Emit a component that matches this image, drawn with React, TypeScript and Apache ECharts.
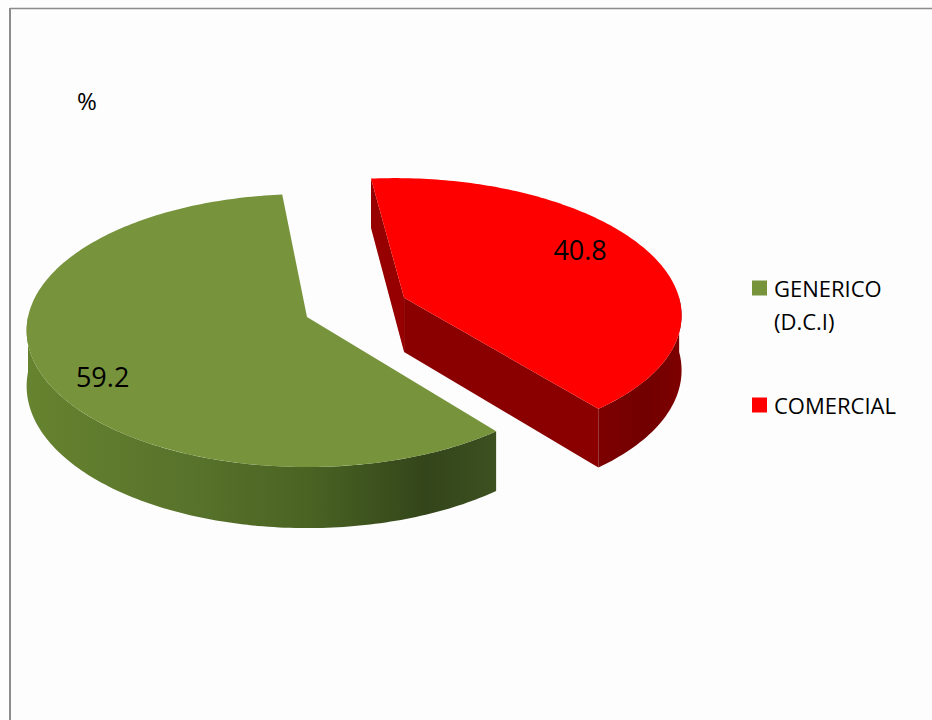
import React, { useEffect, useRef } from 'react';
import * as echarts from 'echarts';

// ---- data ----
const categories = ['GENERICO\n(D.C.I)', 'COMERCIAL'];
const values = [59.2, 40.8];
const valueLabels = ['59.2', '40.8'];
const unitLabel = '%';

// ---- styles / layout ----
const topColors = ['#77933c', '#ff0000'];
const legendColors = ['#77933c', '#ff0000'];
const explode = [0, 0.381];
const START_ANGLE = 95.6;
const CX = 307;
const CY = 317;
const RX = 279;
const RY = 135.2;
const K = 0.099; // perspective shrink toward the back
const DEPTH = 55;
const labelR = [0.75, 0.69];
const labelNudge = [[-5, 20], [7, -15]];
const legendY = [288, 405];
const FONT = '"Open Sans", "Noto Sans", sans-serif';

const RAD = Math.PI / 180;

function sideGradient(i: number) {
  if (i === 0) {
    return new echarts.graphic.LinearGradient(0, 0, 1, 0, [
      { offset: 0, color: '#66832f' },
      { offset: 0.35, color: '#58732b' },
      { offset: 0.6, color: '#4a6323' },
      { offset: 0.85, color: '#33451a' },
      { offset: 1, color: '#3c5020' },
    ]);
  }
  return new echarts.graphic.LinearGradient(0, 0, 1, 0, [
    { offset: 0, color: '#7c0000' },
    { offset: 0.6, color: '#720000' },
    { offset: 1, color: '#7e0000' },
  ]);
}
const radialColors = ['#4a6222', '#8a0000'];
const endRadialColors = ['#4a6222', '#960000'];

function proj(wx: number, wz: number, bottom: boolean) {
  const s = 1 / (1 + K * wz);
  return [CX + RX * wx * s, CY - RY * wz * s + (bottom ? DEPTH * s : 0)];
}

function renderItem(params: any, api: any) {
  const i = params.dataIndex;
  const total = values.reduce((a, b) => a + b, 0);
  let start = START_ANGLE;
  for (let j = 0; j < i; j++) start += (values[j] / total) * 360;
  const sweep = (api.value(1) / total) * 360;
  const end = start + sweep;
  const mid = ((start + end) / 2) * RAD;
  const ox = explode[i] * Math.cos(mid);
  const oz = explode[i] * Math.sin(mid);
  const pt = (deg: number, bottom: boolean) =>
    proj(ox + Math.cos(deg * RAD), oz + Math.sin(deg * RAD), bottom);
  const arc = (a0: number, a1: number, bottom: boolean) => {
    const pts: number[][] = [];
    const n = Math.max(2, Math.ceil(Math.abs(a1 - a0)));
    for (let k = 0; k <= n; k++) pts.push(pt(a0 + ((a1 - a0) * k) / n, bottom));
    return pts;
  };
  const children: any[] = [];

  const c0 = proj(ox, oz, false);
  const c1 = proj(ox, oz, true);
  // radial faces (only the ones facing the viewer)
  if (Math.cos(start * RAD) > 0) {
    children.push({
      type: 'polygon',
      shape: { points: [c0, pt(start, false), pt(start, true), c1] },
      style: { fill: radialColors[i] },
    });
  }
  if (Math.cos(end * RAD) < 0) {
    children.push({
      type: 'polygon',
      shape: { points: [c0, pt(end, false), pt(end, true), c1] },
      style: { fill: endRadialColors[i] },
    });
  }
  // outer curved side (front half)
  const ranges = [[180, 360], [540, 720]];
  ranges.forEach(([r0, r1]) => {
    const s = Math.max(start, r0);
    const e = Math.min(end, r1);
    if (e > s) {
      const topArc = arc(s, e, false);
      const botArc = arc(s, e, true).reverse();
      children.push({
        type: 'polygon',
        shape: { points: topArc.concat(botArc) },
        style: { fill: sideGradient(i) },
      });
    }
  });
  // top face
  children.push({
    type: 'polygon',
    shape: { points: [c0].concat(arc(start, end, false)) },
    style: { fill: topColors[i] },
  });
  // value label
  const lp = proj(ox + labelR[i] * Math.cos(mid), oz + labelR[i] * Math.sin(mid), false);
  children.push({
    type: 'text',
    style: {
      text: valueLabels[i],
      x: lp[0] + labelNudge[i][0],
      y: lp[1] + labelNudge[i][1],
      fill: '#000',
      font: `27px ${FONT}`,
      align: 'center',
      verticalAlign: 'middle',
    },
  });
  // legend entry
  children.push({
    type: 'rect',
    shape: { x: 752, y: legendY[i] - 7.5, width: 15, height: 15 },
    style: { fill: legendColors[i] },
  });
  children.push({
    type: 'text',
    style: {
      text: categories[i],
      x: 774,
      y: legendY[i] - 16.5,
      fill: '#000',
      font: `22px ${FONT}`,
      lineHeight: 33,
      align: 'left',
      verticalAlign: 'top',
    },
  });
  return { type: 'group', children };
}

export default function App() {
  const ref = useRef<HTMLDivElement>(null);
  useEffect(() => {
    if (!ref.current) return;
    const chart = echarts.init(ref.current, null, { renderer: 'svg' });
    chart.setOption({
      animation: false,
      backgroundColor: '#fdfdfd',
      graphic: [
        {
          type: 'line',
          shape: { x1: 10, y1: 8.5, x2: 932, y2: 8.5 },
          style: { stroke: '#8c8c8c', lineWidth: 1.5 },
        },
        {
          type: 'line',
          shape: { x1: 10, y1: 8, x2: 10, y2: 720 },
          style: { stroke: '#8c8c8c', lineWidth: 2 },
        },
        {
          type: 'text',
          style: {
            text: unitLabel,
            x: 87,
            y: 100,
            fill: '#000',
            font: `24px ${FONT}`,
            align: 'center',
            verticalAlign: 'middle',
          },
        },
      ],
      series: [
        {
          type: 'custom',
          coordinateSystem: 'none',
          data: values.map((v, i) => [i, v]),
          renderItem,
        },
      ],
    });
    return () => chart.dispose();
  }, []);
  return (
    <div
      ref={ref}
      style={{ position: 'fixed', left: 0, top: 0, width: 932, height: 720 }}
    />
  );
}
